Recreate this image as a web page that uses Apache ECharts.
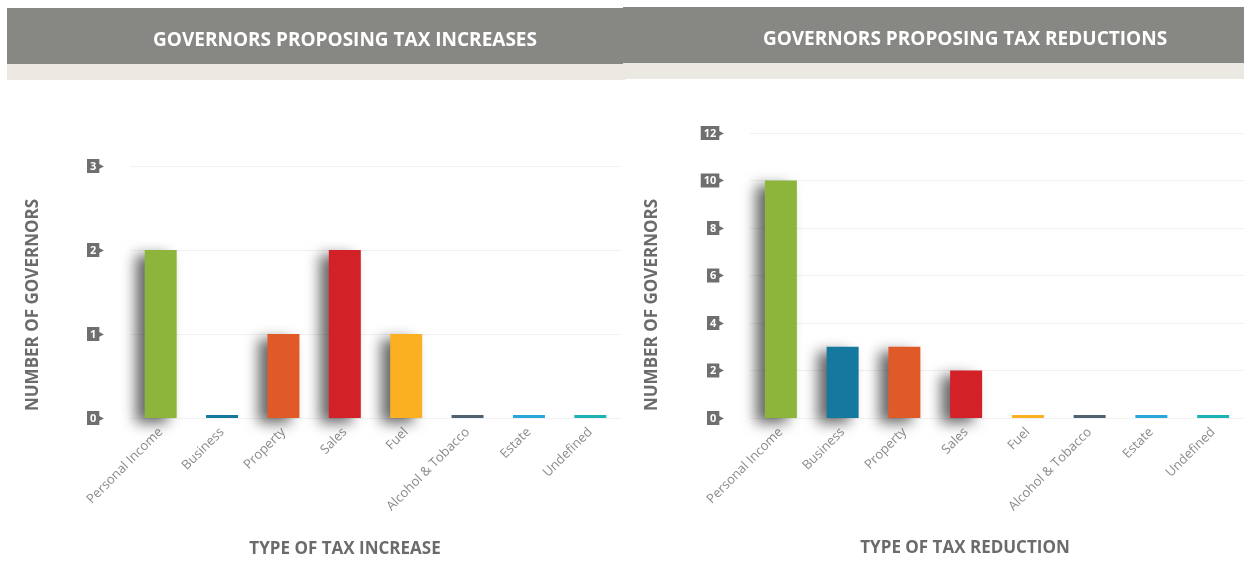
<!DOCTYPE html>
<html>
<head>
<meta charset="utf-8">
<script src="https://cdn.jsdelivr.net/npm/echarts@6/dist/echarts.min.js"></script>
<style>
  html, body { margin: 0; padding: 0; background: #fff; }
  #main { width: 1244px; height: 561px; }
</style>
</head>
<body>
<div id="main"></div>
<script>
// data
var categories = ['Personal Income', 'Business', 'Property', 'Sales', 'Fuel', 'Alcohol & Tobacco', 'Estate', 'Undefined'];
var increaseValues = [2, 0, 1, 2, 1, 0, 0, 0];
var reductionValues = [10, 3, 3, 2, 0, 0, 0, 0];
var barColors = ['#8db53c', '#15799f', '#e05a28', '#d32128', '#fbb021', '#4f6272', '#2aa6da', '#1db2b6'];
var increaseAxis = { max: 3, interval: 1 };
var reductionAxis = { max: 12, interval: 2 };

var font = '"Open Sans", "Noto Sans", sans-serif';

function yAxisOf(idx, ax) {
	return {
		type: 'value',
		gridIndex: idx,
		min: 0,
		max: ax.max,
		interval: ax.interval,
		axisLine: { show: false },
		axisTick: { show: false },
		splitLine: { lineStyle: { color: '#f1f1f1', width: 1 } },
		axisLabel: {
			margin: 26,
			formatter: function(v) { return '{b|' + v + '}{a|▶}'; },
			rich: {
				b: { backgroundColor: '#6f6f6f', color: '#fff', fontWeight: 'bold', fontSize: 11, fontFamily: font, padding: [2, 3, 1, 3], lineHeight: 14 },
				a: { color: '#6f6f6f', fontSize: 10, fontFamily: 'DejaVu Sans', padding: [0, 0, 0, -3] }
			}
		}
	};
}

function xAxisOf(idx) {
	return {
		type: 'category',
		gridIndex: idx,
		data: categories,
		axisLine: { show: false },
		axisTick: { show: false },
		axisLabel: { rotate: 45, interval: 0, margin: 12, color: '#8a8a8a', fontSize: 13, fontFamily: font }
	};
}

// bars with a value get the soft left-hand shadow
function barSeries(idx, values) {
	var items = values.map(function(v) {
		return {
			value: v,
			itemStyle: v > 0 ? {
				shadowColor: 'rgba(0,0,0,0.6)',
				shadowBlur: 14,
				shadowOffsetX: -9,
				shadowOffsetY: 5
			} : {}
		};
	});
	return {
		type: 'bar',
		xAxisIndex: idx,
		yAxisIndex: idx,
		data: items,
		colorBy: 'data',
		barWidth: 32,
		barMinHeight: 3
	};
}

function header(x, y, w, cx, text) {
	return [
		{ type: 'rect', shape: { x: x, y: y, width: w, height: 56 }, style: { fill: '#878784' } },
		{ type: 'rect', shape: { x: x, y: y + 56, width: w, height: 16 }, style: { fill: '#ebe9e1' } },
		{ type: 'text', x: cx, y: y + 33, style: { text: text, fill: '#fff', font: 'bold 19px ' + font, align: 'center', verticalAlign: 'middle' } }
	];
}

function axisName(x, y, text, rot) {
	return {
		type: 'text', x: x, y: y, rotation: rot || 0,
		style: { text: text, fill: '#6b6b6b', font: 'bold 17px ' + font, align: 'center', verticalAlign: 'middle' }
	};
}

var chart = echarts.init(document.getElementById('main'));
chart.setOption({
	animation: false,
	color: barColors,
	grid: [
		{ left: 130, width: 491, top: 166, bottom: 143 },
		{ left: 750, width: 494, top: 133, bottom: 143 }
	],
	xAxis: [xAxisOf(0), xAxisOf(1)],
	yAxis: [yAxisOf(0, increaseAxis), yAxisOf(1, reductionAxis)],
	series: [barSeries(0, increaseValues), barSeries(1, reductionValues)],
	graphic: []
		.concat(header(7, 8, 618, 345, 'GOVERNORS PROPOSING TAX INCREASES'))
		.concat(header(623, 7, 621, 965, 'GOVERNORS PROPOSING TAX REDUCTIONS'))
		.concat([
			axisName(33, 305, 'NUMBER OF GOVERNORS', Math.PI / 2),
			axisName(652, 305, 'NUMBER OF GOVERNORS', Math.PI / 2),
			axisName(345, 549, 'TYPE OF TAX INCREASE'),
			axisName(965, 548, 'TYPE OF TAX REDUCTION')
		])
});
</script>
</body>
</html>
